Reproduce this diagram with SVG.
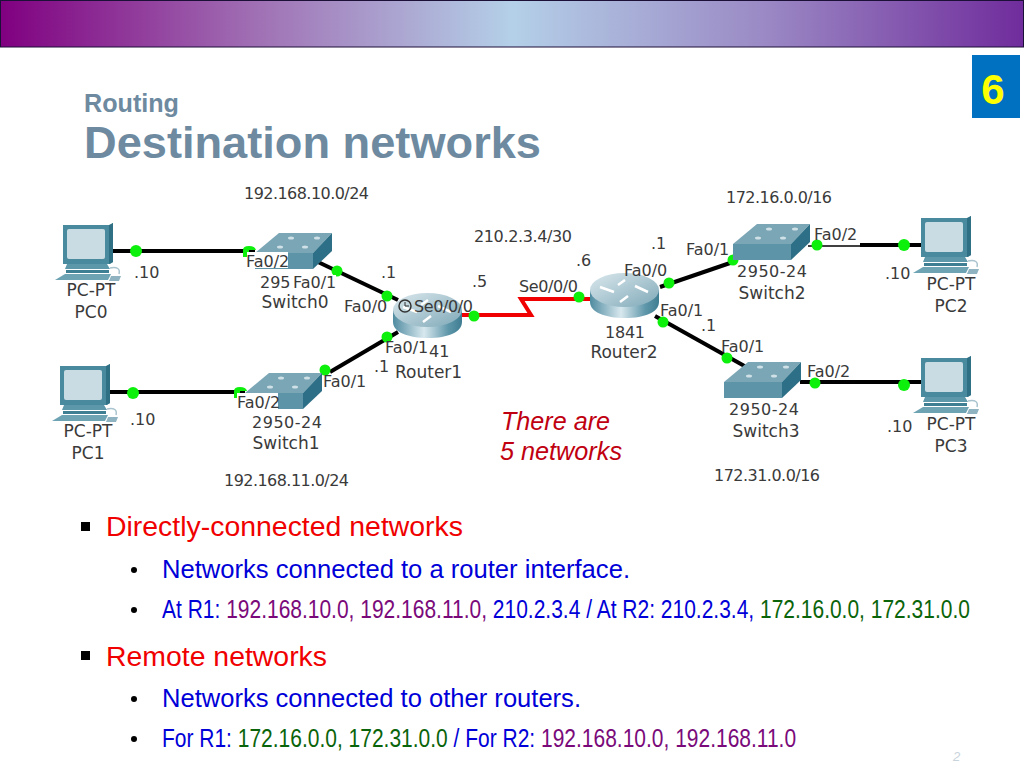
<svg xmlns="http://www.w3.org/2000/svg" width="1024" height="768" viewBox="0 0 1024 768">
<style>
.l{font-family:"DejaVu Sans",sans-serif;font-size:16px;fill:#3a3a3a}
.n{font-size:17px}
.c{text-anchor:middle}
.b{font-family:"Liberation Sans",Arial,sans-serif;font-size:27px}
.s{font-family:"Liberation Sans",Arial,sans-serif;font-size:25.500px}
.red{fill:#f00000}.blue{fill:#0000d8}.pur{fill:#7a0a7a}.grn{fill:#0a640a}
.h{font-family:"Liberation Sans",Arial,sans-serif;font-weight:bold;fill:#6d8aa0}
.wire{stroke:#000;stroke-width:4;fill:none}
.dot{fill:#0cf00c}
.bg{fill:#fff}
</style>
<defs>
<linearGradient id="hd" x1="0" x2="1" y1="0" y2="0"><stop offset="0" stop-color="#800080"/><stop offset=".25" stop-color="#a070b4"/><stop offset=".5" stop-color="#b4d0e8"/><stop offset=".75" stop-color="#9a88c4"/><stop offset="1" stop-color="#702c9c"/></linearGradient>
<linearGradient id="rt" x1="0" x2="1" y1="0" y2="0"><stop offset="0" stop-color="#4f8ba0"/><stop offset=".45" stop-color="#d8e8ee"/><stop offset=".8" stop-color="#5f97aa"/><stop offset="1" stop-color="#3f7d92"/></linearGradient>
<linearGradient id="rtop" x1="0" x2="1" y1="0" y2="1"><stop offset="0" stop-color="#dbe8ed"/><stop offset="1" stop-color="#7fa9b8"/></linearGradient>
<g id="pc">
<path d="M0 1H47L50 -1V38L47 40H0Z" fill="#4a8a9e"/>
<path d="M46 1L50 -1V38L46 40Z" fill="#2f7085"/>
<rect x="4" y="5" width="38" height="30" rx="2" fill="#c9dbe3"/>
<path d="M4 40H44L47 45H2Z" fill="#5d98aa"/>
<path d="M3 46H46V49H3Z" fill="#3f7f94"/>
<path d="M-8 56L2 50H48L45 56Z" fill="#6ea3b3"/>
<path d="M47 44Q58 42 56 50" stroke="#a9c4ce" stroke-width="1.500" fill="none"/>
<path d="M48 52H58L56 57H46Z" fill="#8fb3c0"/>
</g>
<g id="sw">
<path d="M0 20L24 0H77L58 20Z" fill="#7ba6b6"/>
<path d="M0 20H58V36H0Z" fill="#5e94a8"/>
<path d="M58 20L77 0V18L58 36Z" fill="#2d6f86"/>
<g fill="#cfe0e6"><ellipse cx="25" cy="14" rx="3" ry="1.500"/><ellipse cx="50" cy="14" rx="3" ry="1.500"/><ellipse cx="36" cy="5" rx="3" ry="1.500"/><ellipse cx="62" cy="5" rx="3" ry="1.500"/></g>
</g>
<g id="rtr">
<path d="M0 18V30C0 40 15 46 35 46S69 40 69 30V18Z" fill="url(#rt)"/>
<ellipse cx="34.500" cy="18" rx="34.500" ry="17" fill="url(#rtop)"/>
<path d="M10 15L24 20M45 14L58 20M30 30L38 24M35 8L28 13" stroke="#fff" stroke-width="2.500" fill="none"/>
</g>
</defs>
<rect width="1024" height="768" fill="#fff"/>
<g id="header">
<rect x=".5" y=".5" width="1023" height="46.500" fill="url(#hd)" stroke="#1c0f38"/>
<rect x="972" y="55" width="48" height="63" fill="#0070c0"/>
<text x="993" y="104" text-anchor="middle" font-family="Liberation Sans,Arial,sans-serif" font-weight="bold" font-size="42" fill="#ffff00">6</text>
<text class="h" x="84" y="112" font-size="25" textLength="95" lengthAdjust="spacingAndGlyphs">Routing</text>
<text class="h" x="84" y="158" font-size="45" textLength="457" lengthAdjust="spacingAndGlyphs">Destination networks</text>
</g>
<g id="connectors">
<path class="wire" d="M112 251H255"/>
<path class="wire" d="M318 262L398 300"/>
<path class="wire" d="M108 392H245"/>
<path class="wire" d="M330 372L398 332"/>
<path d="M462 315H531L521 299H592" fill="none" stroke="#f00000" stroke-width="4"/>
<path class="wire" d="M660 287L733 262"/>
<path d="M808 246H860" stroke="#000" stroke-width="1.500"/>
<path class="wire" d="M860 245H925"/>
<path class="wire" d="M655 316L748 368"/>
<path class="wire" d="M800 382H925"/>
<g class="dot">
<circle cx="136" cy="251" r="6"/><path d="M243 257V250Q243 246 249 246Q255 246 256 250H249V257Z"/>
<circle cx="337" cy="271" r="5.500"/><circle cx="387" cy="296" r="5.500"/>
<circle cx="133" cy="393" r="6"/><path d="M234 398V391Q234 387 240 387Q246 387 247 391H240V398Z"/>
<circle cx="325" cy="370" r="5.500"/><circle cx="387" cy="337" r="5.500"/>
<circle cx="474" cy="316" r="5.500"/><circle cx="579" cy="297" r="5.500"/>
<circle cx="669" cy="283" r="5.500"/><circle cx="733" cy="260" r="5.500"/>
<circle cx="817" cy="245" r="5.500"/><circle cx="904" cy="245" r="6"/>
<circle cx="663" cy="322" r="5.500"/><circle cx="727" cy="358" r="5.500"/>
<circle cx="815" cy="383" r="5.500"/><circle cx="904" cy="385" r="6"/>
</g>
</g>
<g id="PC0"><use href="#pc" x="63" y="224"/><text class="l n c" x="91" y="296">PC-PT</text><text class="l n c" x="91" y="318">PC0</text></g>
<g id="PC1"><use href="#pc" x="60" y="365"/><text class="l n c" x="88" y="437">PC-PT</text><text class="l n c" x="88" y="459">PC1</text></g>
<g id="PC2"><use href="#pc" x="921" y="217"/><text class="l n c" x="951" y="290">PC-PT</text><text class="l n c" x="951" y="312">PC2</text></g>
<g id="PC3"><use href="#pc" x="921" y="357"/><text class="l n c" x="951" y="430">PC-PT</text><text class="l n c" x="951" y="452">PC3</text></g>
<g id="Switch0"><use href="#sw" x="255" y="233"/><rect class="bg" x="247" y="252" width="41" height="16"/><text class="l" x="246" y="267">Fa0/2</text><text class="l" x="260" y="288">295</text><rect class="bg" x="292" y="275" width="44" height="14"/><text class="l" x="293" y="288">Fa0/1</text><text class="l n c" x="295" y="308">Switch0</text></g>
<g id="Switch1"><use href="#sw" x="245" y="373"/><rect class="bg" x="237" y="393" width="41" height="16"/><text class="l" x="237" y="408">Fa0/2</text><text class="l" x="323" y="387">Fa0/1</text><text class="l c" x="287" y="428" textLength="70">2950-24</text><text class="l n c" x="286" y="449">Switch1</text></g>
<g id="Switch2"><use href="#sw" x="733" y="224"/><text class="l" x="686" y="255">Fa0/1</text><text class="l" x="814" y="240">Fa0/2</text><text class="l c" x="772" y="277" textLength="70">2950-24</text><text class="l n c" x="772" y="299">Switch2</text></g>
<g id="Switch3"><use href="#sw" x="724" y="362"/><text class="l" x="721" y="352">Fa0/1</text><text class="l" x="807" y="377">Fa0/2</text><text class="l c" x="764" y="415" textLength="70">2950-24</text><text class="l n c" x="766" y="437">Switch3</text></g>
<g id="Router1"><use href="#rtr" x="393" y="292"/><circle cx="405" cy="306" r="6" fill="none" stroke="#333" stroke-width="1.500"/><path d="M405 302V306H409" fill="none" stroke="#333"/><text class="l" x="344" y="312">Fa0/0</text><text class="l" x="414" y="312" textLength="59">Se0/0/0</text><text class="l" x="385" y="353">Fa0/1</text><text class="l" x="429" y="357">41</text><text class="l n" x="395" y="378">Router1</text></g>
<g id="Router2"><use href="#rtr" x="590" y="272"/><text class="l" x="519" y="292" textLength="59">Se0/0/0</text><text class="l" x="624" y="276">Fa0/0</text><text class="l" x="660" y="316">Fa0/1</text><text class="l c" x="625" y="338" textLength="40">1841</text><text class="l n c" x="624" y="358">Router2</text></g>
<g id="addresses">
<text class="l" x="244" y="199" textLength="125">192.168.10.0/24</text>
<text class="l" x="224" y="486" textLength="125">192.168.11.0/24</text>
<text class="l" x="474" y="242" textLength="98">210.2.3.4/30</text>
<text class="l" x="726" y="203" textLength="106">172.16.0.0/16</text>
<text class="l" x="714" y="481" textLength="106">172.31.0.0/16</text>
<text class="l" x="134" y="278">.10</text><text class="l" x="130" y="425">.10</text><text class="l" x="885" y="279">.10</text><text class="l" x="887" y="432">.10</text>
<text class="l" x="381" y="278">.1</text><text class="l" x="374" y="372">.1</text><text class="l" x="472" y="287">.5</text><text class="l" x="576" y="266">.6</text><text class="l" x="651" y="249">.1</text><text class="l" x="701" y="331">.1</text>
</g>
<g id="note" font-family="Liberation Sans,Arial,sans-serif" font-style="italic" font-size="25" fill="#c00010">
<text x="501" y="430" textLength="109" lengthAdjust="spacingAndGlyphs">There are</text><text x="500" y="460" textLength="122" lengthAdjust="spacingAndGlyphs">5 networks</text>
</g>
<g id="bullets">
<rect x="81" y="522" width="9" height="9" fill="#000"/><rect x="81" y="651" width="9" height="9" fill="#000"/>
<circle cx="134" cy="570" r="3"/><circle cx="134" cy="610" r="3"/><circle cx="134" cy="699" r="3"/><circle cx="134" cy="739" r="3"/>
<text class="b red" x="106" y="536" textLength="357" lengthAdjust="spacingAndGlyphs">Directly-connected networks</text>
<text class="s blue" x="162" y="578" textLength="468" lengthAdjust="spacingAndGlyphs">Networks connected to a router interface.</text>
<text class="s blue" transform="translate(162 618) scale(.823 1)">At R1: <tspan class="pur">192.168.10.0, 192.168.11.0,</tspan> 210.2.3.4 / At R2: 210.2.3.4, <tspan class="grn">172.16.0.0, 172.31.0.0</tspan></text>
<text class="b red" x="106" y="666" textLength="221" lengthAdjust="spacingAndGlyphs">Remote networks</text>
<text class="s blue" x="162" y="707" textLength="419" lengthAdjust="spacingAndGlyphs">Networks connected to other routers.</text>
<text class="s blue" transform="translate(162 747) scale(.823 1)">For R1: <tspan class="grn">172.16.0.0, 172.31.0.0</tspan> / For R2: <tspan class="pur">192.168.10.0, 192.168.11.0</tspan></text>
<text x="953" y="761" font-family="Liberation Sans,Arial,sans-serif" font-style="italic" font-size="13" fill="#c8d4dc">2</text>
</g>
</svg>
